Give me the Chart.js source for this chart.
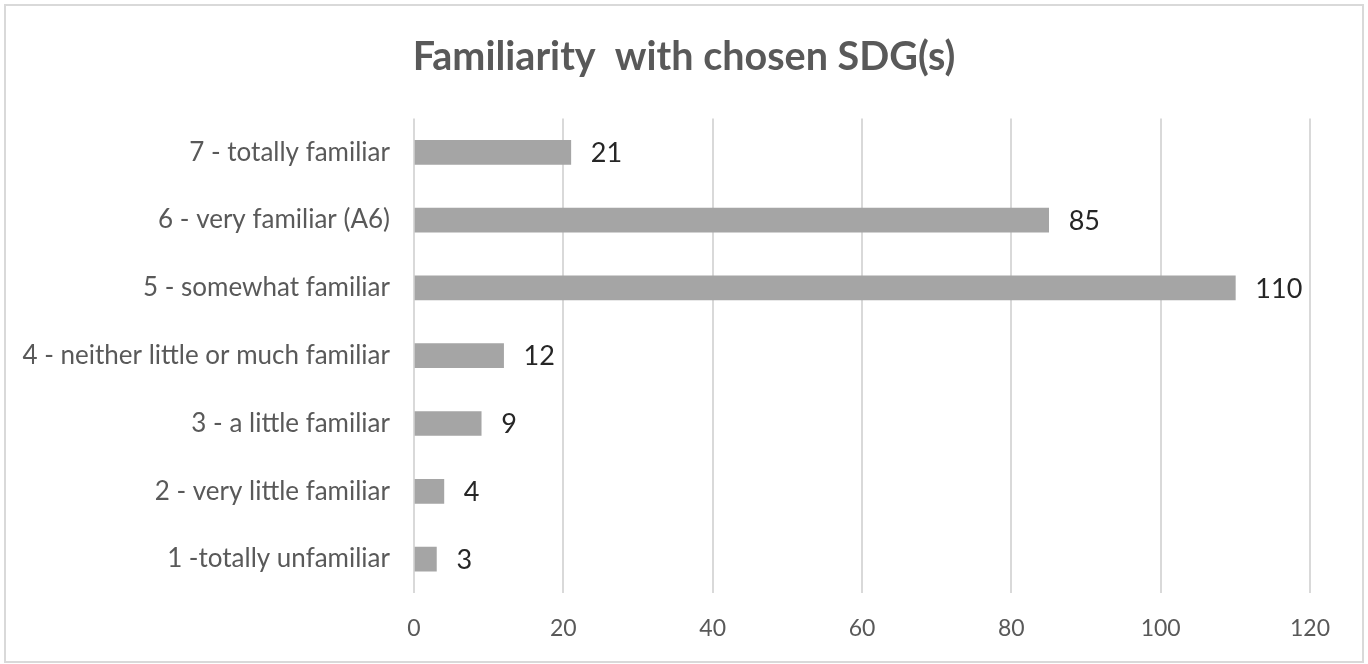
<!DOCTYPE html>
<html>
<head>
<meta charset="utf-8">
<script src="https://cdn.jsdelivr.net/npm/chart.js@4/dist/chart.umd.min.js"></script>
<style>
html,body{margin:0;padding:0;background:#fff;}
#wrap{position:relative;width:1368px;height:664px;}
#frame{position:absolute;left:4px;top:4px;width:1356px;height:655px;border:2px solid #d9d9d9;pointer-events:none;}
canvas{position:absolute;left:0;top:0;}
</style>
</head>
<body>
<div id="wrap"><canvas id="c" width="1368" height="664"></canvas><div id="frame"></div></div>
<script>
const categories = [
  "7 - totally familiar",
  "6 - very familiar (A6)",
  "5 - somewhat familiar",
  "4 - neither little or much familiar",
  "3 - a little familiar",
  "2 - very little familiar",
  "1 -totally unfamiliar"
];
const counts = [21, 85, 110, 12, 9, 4, 3];
const xTicks = [0, 20, 40, 60, 80, 100, 120];
const chartTitle = "Familiarity  with chosen SDG(s)";

const FONT = "Lato, 'Open Sans', sans-serif";

const valueLabels = {
  id: 'valueLabels',
  afterDatasetsDraw(chart) {
    const ctx = chart.ctx;
    const meta = chart.getDatasetMeta(0);
    ctx.save();
    ctx.font = "27px " + FONT;
    ctx.fillStyle = "#262626";
    ctx.textAlign = "left";
    ctx.textBaseline = "middle";
    meta.data.forEach((bar, i) => {
      const v = chart.data.datasets[0].data[i];
      ctx.fillText(String(v), bar.x + 20, bar.y + 1);
    });
    ctx.restore();
  }
};

new Chart(document.getElementById('c'), {
  type: 'bar',
  data: {
    labels: categories,
    datasets: [{
      data: counts,
      backgroundColor: '#a5a5a5',
      borderWidth: 0,
      barThickness: 24
    }]
  },
  options: {
    indexAxis: 'y',
    responsive: false,
    animation: false,
    devicePixelRatio: 1,
    layout: { padding: { left: 0, right: 0, top: 0, bottom: 0 } },
    plugins: {
      legend: { display: false },
      tooltip: { enabled: false },
      title: {
        display: true,
        text: chartTitle,
        color: '#595959',
        font: { family: FONT, size: 39.5, weight: 'bold', lineHeight: 1.2 },
        padding: { top: 34, bottom: 37 }
      }
    },
    scales: {
      x: {
        min: 0, max: 120,
        afterBuildTicks(scale) { scale.ticks = xTicks.map(v => ({ value: v })); },
        afterFit(scale) { scale.height = 71; },
        grid: { color: '#d9d9d9', lineWidth: 2, drawTicks: false },
        border: { display: false },
        ticks: { color: '#595959', padding: 22, font: { family: FONT, size: 23 } }
      },
      y: {
        afterFit(scale) { scale.width = 414; },
        grid: { display: false, drawTicks: false },
        border: { display: false },
        ticks: { color: '#595959', padding: 24, font: { family: FONT, size: 26 } }
      },
      yRightSpace: {
        type: 'category',
        position: 'right',
        afterFit(scale) { scale.width = 58; },
        grid: { display: false, drawTicks: false },
        border: { display: false },
        ticks: { display: false }
      }
    }
  },
  plugins: [valueLabels]
});
</script>
</body>
</html>
